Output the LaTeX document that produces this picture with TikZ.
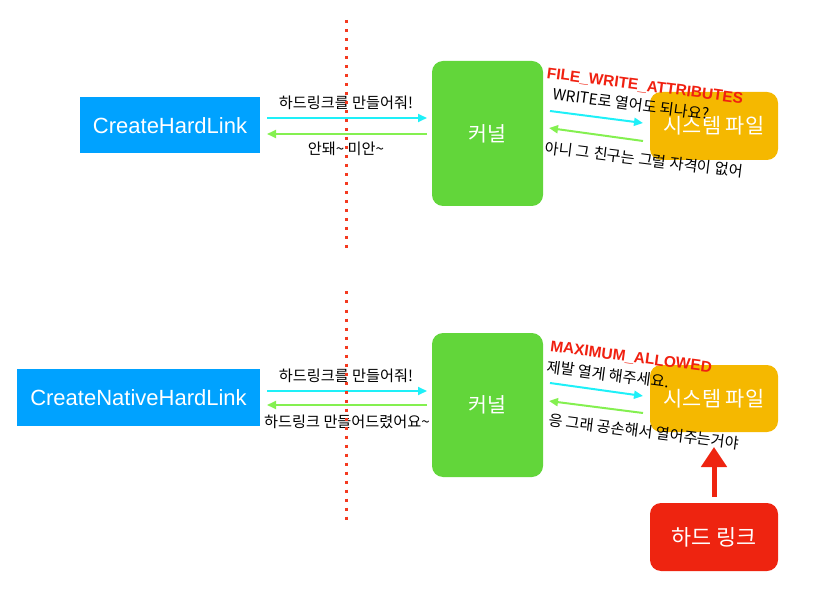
\documentclass[tikz,border=0pt]{standalone}
\usepackage{fontspec}
\setmainfont{Liberation Sans}
\newfontfamily\kr{Noto Sans CJK KR}
\usetikzlibrary{arrows.meta}
\definecolor{boxblue}{HTML}{00A2FF}
\definecolor{kgreen}{HTML}{62D63A}
\definecolor{forange}{HTML}{F5B800}
\definecolor{hred}{HTML}{EE2410}
\definecolor{acyan}{HTML}{1EF0F8}
\definecolor{agreen}{HTML}{84F050}
\definecolor{tred}{HTML}{F02010}
\definecolor{dotred}{HTML}{F43A20}
\tikzset{
  blbox/.style={fill=boxblue, text=white, inner sep=0pt, outer sep=0pt, font=\fontsize{22}{24}\selectfont},
  kbox/.style={fill=kgreen, text=white, rounded corners=11pt, inner sep=0pt, outer sep=0pt, minimum width=111pt, font=\kr\fontsize{20.5}{22}\selectfont},
  obox/.style={fill=forange, text=white, rounded corners=11pt, inner sep=0pt, outer sep=0pt, minimum width=128pt, font=\kr\fontsize{20.8}{22}\selectfont},
  rbox/.style={fill=hred, text=white, rounded corners=11pt, inner sep=0pt, outer sep=0pt, minimum width=128pt, minimum height=68pt, font=\kr\fontsize{21.8}{22}\selectfont},
  lbl/.style={inner sep=0pt, font=\kr\fontsize{15.2}{16}\selectfont, text=black},
  redlbl/.style={inner sep=0pt, font=\bfseries\fontsize{15.5}{17}\selectfont, text=tred},
  carrow/.style={draw=acyan, line width=2pt, -{Triangle[length=9pt,width=8pt]}},
  garrow/.style={draw=agreen, line width=2pt, -{Triangle[length=9pt,width=8pt]}},
  dotline/.style={draw=dotred, line width=3pt, dash pattern=on 3pt off 6pt}
}
\begin{document}
\begin{tikzpicture}[x=1pt,y=-1pt]
\useasboundingbox (0,0) rectangle (821,601);

% boxes
\node[blbox, minimum width=180pt, minimum height=56pt] (chl) at (170,125.5) {CreateHardLink};
\node[blbox, minimum width=243pt, minimum height=57pt] (cnhl) at (138.5,397.5) {CreateNativeHardLink};
\node[kbox, minimum height=145pt] (k1) at (487.5,133.5) {커널};
\node[kbox, minimum height=144pt] (k2) at (487.5,405) {커널};
\node[obox, minimum height=68pt] (f1) at (714,126) {시스템 파일};
\node[obox, minimum height=67pt] (f2) at (714,398.5) {시스템 파일};
\node[rbox] (hl) at (714,537) {하드 링크};

% left connectors (top)
\coordinate (a1s) at (267,118); \coordinate (a1e) at (427,118);
\coordinate (b1s) at (427,134); \coordinate (b1e) at (267,134);
\draw[carrow] (a1s) -- (a1e);
\draw[garrow] (b1s) -- (b1e);
\node[lbl] (t1) at (346,102.5) {하드링크를 만들어줘!};
\node[lbl] (t2) at (346,149) {안돼\textasciitilde{} 미안\textasciitilde};

% left connectors (bottom)
\coordinate (a2s) at (267,391); \coordinate (a2e) at (427,391);
\coordinate (b2s) at (427,405); \coordinate (b2e) at (267,405);
\draw[carrow] (a2s) -- (a2e);
\draw[garrow] (b2s) -- (b2e);
\node[lbl] (t3) at (346,375.5) {하드링크를 만들어줘!};
\node[lbl] (t4) at (347,422) {하드링크 만들어드렸어요\textasciitilde};

% right connectors (top)
\coordinate (c1s) at (550,111); \coordinate (c1e) at (643,123);
\coordinate (d1s) at (643,141); \coordinate (d1e) at (549,128);
\draw[carrow] (c1s) -- (c1e);
\draw[garrow] (d1s) -- (d1e);
\node[redlbl, rotate=-7.5] (r1) at (645,86.5) {FILE\_WRITE\_ATTRIBUTES};
\node[lbl, rotate=-7.5] (t5) at (631,104) {WRITE로 열어도 되나요?};
\node[lbl, rotate=-7] (t6) at (644,159.5) {아니 그 친구는 그럴 자격이 없어};

% right connectors (bottom)
\coordinate (c2s) at (550,383); \coordinate (c2e) at (643,396);
\coordinate (d2s) at (643,413); \coordinate (d2e) at (549,401);
\draw[carrow] (c2s) -- (c2e);
\draw[garrow] (d2s) -- (d2e);
\node[redlbl, rotate=-7.5] (r2) at (631,357.5) {MAXIMUM\_ALLOWED};
\node[lbl, rotate=-7.5] (t7) at (608,374.5) {제발 열게 해주세요.};
\node[lbl, rotate=-7] (t8) at (644,431.5) {응 그래 공손해서 열어주는거야};

% hard link arrow
\coordinate (hs) at (714,497);
\coordinate (he) at (714,447);
\draw[draw=hred, line width=5pt, -{Triangle[length=20pt,width=25pt]}] (hs) -- (he);

% dotted separators
\draw[dotline] (346,19.8) -- (346,248);
\draw[dotline] (346,291.5) -- (346,520);
\end{tikzpicture}
\end{document}
